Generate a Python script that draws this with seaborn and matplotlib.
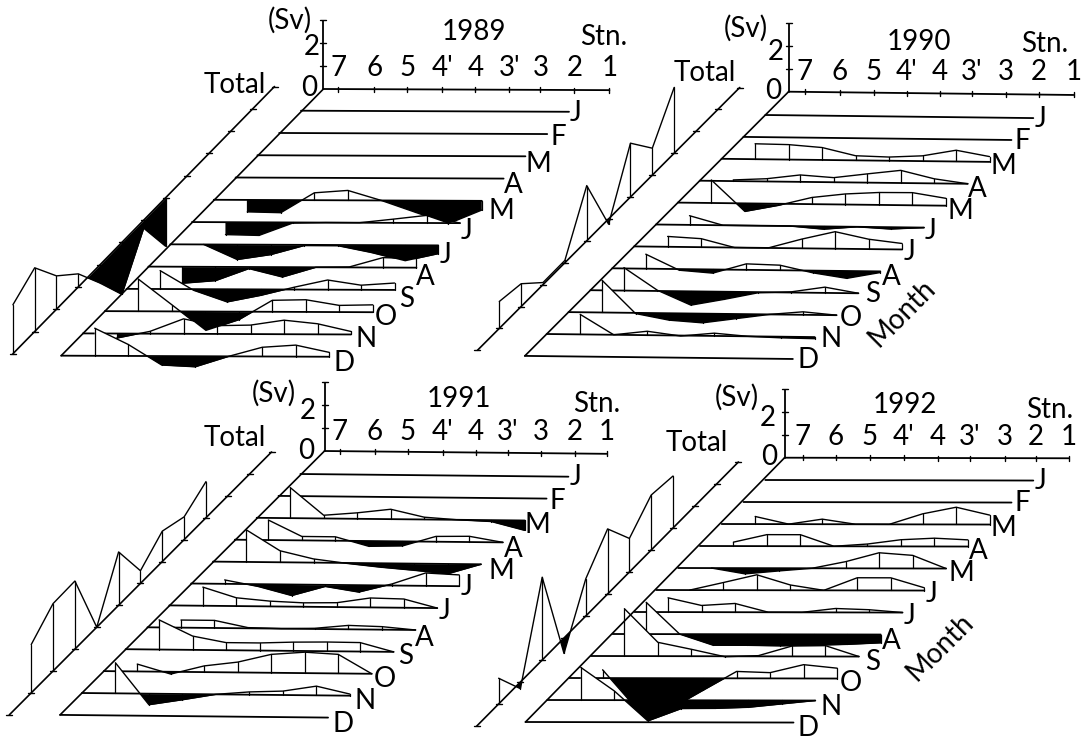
"""Monthly transport by station, four years, drawn as oblique stacked profiles."""
import matplotlib
matplotlib.use("Agg")
import matplotlib.pyplot as plt
import numpy as np
import seaborn as sns

MONTHS = ["J", "F", "M", "A", "M", "J", "J", "A", "S", "O", "N", "D"]
STATIONS = ["7", "6", "5", "4'", "4", "3'", "3", "2", "1"]
ZERO = [0] * 8

# Sv at stations 7, 6, 5, 4', 4, 3', 3, 2 for each month
flow_1989 = [
    ZERO, ZERO, ZERO, ZERO,
    [-.52, -.55, .32, .43, 0, -.5, -1.0, -.4],
    [-.54, -.57, -.03, 0, 0, .16, .33, 0],
    [0, -.65, -.43, -.03, -.03, -.32, -.68, -.36],
    [-.72, -.6, -.07, -.43, 0, .02, .43, .4],
    [.8, -.05, -.55, -.26, .1, .42, .2, .3],
    [1.4, .29, -.83, -.35, .5, .53, .29, .32],
    [-.2, .1, .65, .36, .39, .61, .46, .13],
    [1.2, .5, -.39, -.46, 0, .4, .5, .19],
]
flow_1990 = [
    ZERO, ZERO,
    [.67, .65, .54, .2, .16, .23, .49, .23],
    [.05, .12, .3, .2, .38, .55, .2, 0],
    [1.0, -.35, -.07, .29, .46, .54, .55, .32],
    [.4, 0, 0, 0, -.12, 0, -.08, 0],
    [.45, .37, 0, 0, .4, .74, .43, .26],
    [.63, -.05, -.16, .26, .22, -.1, -.32, -.05],
    [1.0, .03, -.6, -.33, -.03, .03, .25, 0],
    [1.4, -.03, -.3, -.4, -.2, 0, .13, 0],
    [.87, 0, .17, -.02, .12, 0, -.05, -.07],
    ZERO,
]
flow_1991 = [
    ZERO, ZERO,
    [1.33, .14, .26, .43, .1, 0, -.06, -.43],
    [.87, .17, .17, -.23, -.2, .23, .25, 0],
    [1.39, .5, .16, -.02, -.17, -.29, -.43, 0],
    [.17, -.1, -.48, -.07, -.3, .07, .56, .49],
    [.81, .36, .23, .17, .19, .41, .38, 0],
    [.33, .33, .03, 0, .03, .17, .13, 0],
    [1.29, .6, .33, .33, .38, .4, .39, 0],
    [.32, -.1, .27, .45, .8, .91, .83, 0],
    [1.33, -.48, -.25, 0, .12, .17, .4, .07],
    ZERO,
]
flow_1992 = [
    ZERO, ZERO,
    [.33, 0, .22, 0, 0, .46, .75, .41],
    [.17, .5, .5, 0, .1, .29, .36, .29],
    [0, -.25, -.12, 0, .29, .68, .57, 0],
    [0, .33, .67, .23, 0, .55, .55, .12],
    [.62, .29, .38, 0, 0, .17, .12, 0],
    [1.38, 0, -.48, -.48, -.5, -.47, -.43, -.36],
    [2.06, .6, .3, -.02, .03, .45, .47, 0],
    [.36, -1.3, -1.35, -.52, .3, .25, .6, .45],
    [1.42, .4, -.9, -.36, -.35, -.3, -.15, 0],
    ZERO,
]

nan = float("nan")
total_1989 = [nan, nan, nan, nan, -2.1, -.35, -2.26, -.8, .57, 1.45, 2.77, 2.13]
total_1990 = [nan, nan, 2.86, 1.17, 2.34, -.23, 2.4, .1, .09, .99, 1.17, nan]
total_1991 = [nan, nan, 1.57, .99, 1.32, .55, 2.32, 0, 2.96, 2.93, 2.1, nan]
total_1992 = [nan, nan, 2.26, 2.39, 1.46, 2.83, 1.62, -.67, 3.6, -.29, 1.12, nan]

# label offsets from the end of each month line, pixels
LABEL_DX_A = [7, 11, 13, 10, 20, 7, 7, 9, 12, 13, 15, 15]
LABEL_DX_B = [7, 11, 14, 10, 15, 7, 7, 11, 14, 14, 16, 15]

PANELS = [
    dict(year="1989", flow=flow_1989, total=total_1989,
         origin=(323.4, 89), row0=(301, 110.7), step=(21.8, 22.27), tilt=.004,
         ticks=[15, 51, 84, 119, 152, 186, 217, 251, 286], tick_label_y=68,
         total0=(252.7, 108.8), sv=(290, 20), two=(312, 47), zero=(309, 88),
         title=(474, 32), stn=(604, 37), total_xy=(235, 85), month=None,
         label_dx=LABEL_DX_A, label_dy=[1, 3, 8, 6, 10, 8, 10, 9, 9, 5, 5, 6]),
    dict(year="1990", flow=flow_1990, total=total_1990,
         origin=(788.6, 91.7), row0=(765.3, 115), step=(21.86, 21.9), tilt=.0115,
         ticks=[16, 51, 85, 118, 151, 183, 217, 250, 285], tick_label_y=72,
         total0=(717.9, 109.4), sv=(746, 28), two=(776, 52), zero=(773, 91),
         title=(919, 42), stn=(1045, 44), total_xy=(705, 73), month=(902, 313),
         label_dx=LABEL_DX_B, label_dy=[1, 1, 4, 5, 5, 3, 3, 6, 1, 3, 2, 1]),
    dict(year="1991", flow=flow_1991, total=total_1991,
         origin=(324.5, 451), row0=(300.4, 474), step=(21.85, 21.9), tilt=.01,
         ticks=[15, 50.5, 83, 118, 151, 183, 216, 250, 282], tick_label_y=432,
         total0=(249.7, 473.9), sv=(274, 393), two=(308, 411), zero=(306, 451),
         title=(459, 399), stn=(597, 404), total_xy=(235, 438), month=None,
         label_dx=LABEL_DX_A, label_dy=[0, 2, 5, 7, 7, 1, 3, 8, 4, 5, 5, 6]),
    dict(year="1992", flow=flow_1992, total=total_1992,
         origin=(784.6, 457.7), row0=(765.3, 480), step=(21.8, 22), tilt=.002,
         ticks=[18, 51, 85, 119, 153, 185, 220, 251, 284], tick_label_y=437,
         total0=(716.6, 484), sv=(737, 397), two=(768, 418), zero=(769, 457),
         title=(905, 405), stn=(1050, 410), total_xy=(697, 443), month=(940, 647),
         label_dx=LABEL_DX_B, label_dy=[0, 0, 3, 4, 4, 3, 3, 6, 5, 4, 6, 5]),
]

PX_PER_SV = 23
ROW_OFFSETS = 33.5 * np.arange(1, 9)
LW = 1.0
BLACK = "#000000"
FONT = 20

sns.set_theme(style="white")
plt.rcParams["font.family"] = ["Lato", "DejaVu Sans"]
plt.rcParams["text.color"] = BLACK


def line(ax, xs, ys, lw=LW, z=5):
    sns.lineplot(x=np.asarray(xs, float), y=np.asarray(ys, float), ax=ax, color=BLACK,
                 linewidth=lw, sort=False, estimator=None, zorder=z, legend=False)


def draw_profile(ax, xs, base, values, z):
    """White above the base, black below, with a drop line at every point."""
    tops = base - values * PX_PER_SV
    ax.fill_between(xs, base, tops, where=values >= 0, interpolate=True,
                    color="white", linewidth=0, zorder=z)
    ax.fill_between(xs, base, tops, where=values <= 0, interpolate=True,
                    color=BLACK, linewidth=0, zorder=100)
    line(ax, xs, tops, z=z + 1)
    for x, b, t in zip(xs, base, tops):
        line(ax, [x, x], [b, t], lw=.9, z=z + 1)


def label(ax, xy, text, **kw):
    ax.text(xy[0], xy[1], text, ha="center", va="center", fontsize=FONT, zorder=110, **kw)


def draw_panel(ax, p):
    ox, oy = p["origin"]
    x0, y0 = p["row0"]
    dx, dy = p["step"]
    tilt = p["tilt"]

    # station axis and Sv axis
    ticks = np.array(p["ticks"], float)
    line(ax, [ox, ox + ticks[-1]], [oy, oy + tilt * ticks[-1]], lw=1.3)
    for t, name in zip(ticks, STATIONS):
        y = oy + tilt * t
        line(ax, [ox + t, ox + t], [y - 2.5, y + 2.5], lw=1)
        label(ax, (ox + t, p["tick_label_y"]), name)
    line(ax, [ox, ox], [oy, oy - 3 * PX_PER_SV + 1], lw=1.3)
    for sv in (1, 2, 3):
        y = oy - sv * PX_PER_SV
        line(ax, [ox - 3, ox + 3], [y, y], lw=1)

    # slanted edges
    line(ax, [ox, x0 - 11 * dx], [oy, y0 + 11 * dy], lw=1.2, z=90)
    tx0, ty0 = p["total0"]
    line(ax, [tx0 + dx, tx0 - 11 * dx], [ty0 - dy, ty0 + 11 * dy], lw=1.2, z=90)
    for m in range(-1, 12):
        tx, ty = tx0 - m * dx, ty0 + m * dy
        line(ax, [tx - 3, tx + 3], [ty, ty], lw=1, z=90)

    # month rows, back to front
    for m, row in enumerate(p["flow"]):
        sx = x0 - m * dx
        sy = y0 + m * dy
        end = ROW_OFFSETS[-1]
        values = np.array(row, float)
        if values.any():
            draw_profile(ax, sx + ROW_OFFSETS, sy + tilt * ROW_OFFSETS, values, 4 + 3 * m)
        line(ax, [sx, sx + end], [sy, sy + tilt * end], lw=1.3, z=5 + 3 * m)
        label(ax, (sx + end + p["label_dx"][m], sy + tilt * end + p["label_dy"][m]), MONTHS[m])

    # total strip
    total = np.array(p["total"], float)
    idx = np.where(~np.isnan(total))[0][::-1]
    draw_profile(ax, tx0 - idx * dx, ty0 + idx * dy, total[idx], 60)

    label(ax, p["sv"], "(Sv)")
    label(ax, p["two"], "2")
    label(ax, p["zero"], "0")
    label(ax, p["title"], p["year"])
    label(ax, p["stn"], "Stn.")
    label(ax, p["total_xy"], "Total")
    if p["month"]:
        label(ax, p["month"], "Month", rotation=45)


fig = plt.figure(figsize=(10.9, 7.4), dpi=100)
ax = fig.add_axes([0, 0, 1, 1])
for panel in PANELS:
    draw_panel(ax, panel)
ax.set_xlim(0, 1090)
ax.set_ylim(740, 0)
ax.axis("off")
fig.savefig("out.png", dpi=100)
